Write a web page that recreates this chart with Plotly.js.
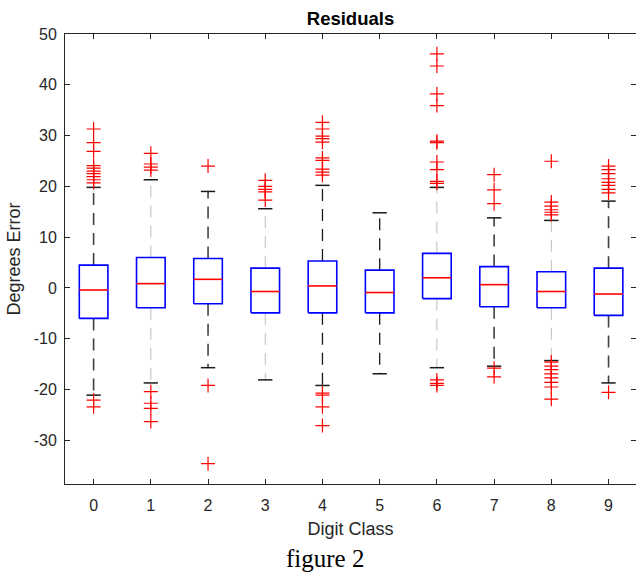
<!DOCTYPE html>
<html><head><meta charset="utf-8">
<script src="https://cdn.plot.ly/plotly-3.0.1.min.js"></script>
<style>html,body{margin:0;padding:0;background:#fff}</style>
</head><body><div id="chart" style="width:636px;height:574px"></div>
<script>
// ---- data ----
const categories = [0, 1, 2, 3, 4, 5, 6, 7, 8, 9];
const xTickLabels = ['0', '1', '2', '3', '4', '5', '6', '7', '8', '9'];
const upperWhisker = [19.8, 21.3, 19.0, 15.6, 20.2, 14.8, 19.8, 13.8, 13.3, 17.1];
const q3 = [4.5, 6.0, 5.8, 3.9, 5.3, 3.5, 6.8, 4.2, 3.2, 3.9];
const medians = [-0.4, 0.85, 1.7, -0.7, 0.4, -0.9, 2.0, 0.65, -0.7, -1.2];
const q1 = [-6.0, -3.9, -3.1, -4.9, -4.9, -4.9, -2.1, -3.7, -3.9, -5.4];
const lowerWhisker = [-21.1, -18.7, -15.7, -18.1, -19.2, -16.9, -15.7, -15.4, -14.3, -18.7];
const outliers0 = [31.3, 28.6, 26.9, 24.1, 23.6, 23.0, 22.5, 21.9, 21.3, 20.7, -22.1, -23.4];
const outliers1 = [26.5, 24.4, 23.8, 23.2, -20.4, -22.7, -23.7, -26.3];
const outliers2 = [24.0, -19.2, -34.6];
const outliers3 = [21.2, 20.0, 19.4, 18.9, 17.3];
const outliers4 = [32.6, 31.3, 29.9, 29.4, 28.7, 25.6, 25.1, 23.4, 22.8, 22.2, -20.7, -21.1, -23.4, -27.1];
const outliers5 = [];
const outliers6 = [46.1, 43.7, 38.2, 35.9, 28.9, 28.6, 24.8, 23.3, 21.0, 20.6, -18.1, -18.8, -19.2];
const outliers7 = [22.3, 19.3, 16.6, -15.8, -17.5];
const outliers8 = [24.95, 16.9, 16.1, 15.4, 14.9, 14.4, -14.6, -15.4, -16.1, -16.9, -17.7, -18.6, -19.5, -21.9];
const outliers9 = [24.0, 23.3, 22.5, 21.5, 20.8, 20.2, 19.4, 18.7, -20.55];
const yTickVals = [-30, -20, -10, 0, 10, 20, 30, 40, 50];
const yTickLabels = ['-30', '-20', '-10', '0', '10', '20', '30', '40', '50'];

// ---- styles ----
const outlierLists = [outliers0, outliers1, outliers2, outliers3, outliers4, outliers5, outliers6, outliers7, outliers8, outliers9];
const whiskerColors = ['#404040', '#bdbdbd', '#1a1a1a', '#bdbdbd', '#1a1a1a', '#1a1a1a', '#bdbdbd', '#404040', '#bdbdbd', '#404040'];
const whiskerWidths = [1.6, 1, 1.3, 1, 1.3, 1.3, 1, 1.6, 1, 1.6];
const boxHalf = 0.25, capHalf = 0.125;

const traces = [];
// whiskers (dashed) from box edges to the whisker ends
categories.forEach((c, i) => {
  traces.push({
    type: 'scatter', mode: 'lines', showlegend: false, hoverinfo: 'skip',
    x: [c, c, null, c, c], y: [q3[i], upperWhisker[i], null, q1[i], lowerWhisker[i]],
    line: {color: whiskerColors[i], width: whiskerWidths[i], dash: '12px,8px'}
  });
});
const boxX = [], boxY = [], capX = [], capY = [], medX = [], medY = [];
categories.forEach((c, i) => {
  boxX.push(c - boxHalf, c + boxHalf, c + boxHalf, c - boxHalf, c - boxHalf, null);
  boxY.push(q1[i], q1[i], q3[i], q3[i], q1[i], null);
  capX.push(c - capHalf, c + capHalf, null, c - capHalf, c + capHalf, null);
  capY.push(upperWhisker[i], upperWhisker[i], null, lowerWhisker[i], lowerWhisker[i], null);
  medX.push(c - boxHalf, c + boxHalf, null);
  medY.push(medians[i], medians[i], null);
});
traces.push({type: 'scatter', mode: 'lines', x: capX, y: capY, showlegend: false, hoverinfo: 'skip',
  line: {color: '#1a1a1a', width: 1.5}});
traces.push({type: 'scatter', mode: 'lines', x: boxX, y: boxY, showlegend: false, hoverinfo: 'skip',
  line: {color: '#0000ff', width: 1.6}});
traces.push({type: 'scatter', mode: 'lines', x: medX, y: medY, showlegend: false, hoverinfo: 'skip',
  line: {color: '#ff0000', width: 1.6}});
const oX = [], oY = [];
categories.forEach((c, i) => outlierLists[i].forEach(v => { oX.push(c); oY.push(v); }));
traces.push({type: 'scatter', mode: 'markers', x: oX, y: oY, showlegend: false, hoverinfo: 'skip',
  marker: {symbol: 'cross-thin', size: 10, color: '#ff0000', line: {color: '#ff0000', width: 1.2}}});

const axisCommon = {
  ticks: 'inside', ticklen: 5, tickwidth: 1, tickcolor: '#262626',
  showline: true, linecolor: '#262626', linewidth: 1, mirror: 'ticks',
  showgrid: false, zeroline: false, fixedrange: true,
  tickfont: {family: 'Liberation Sans, Arial, sans-serif', size: 16, color: '#262626'}
};
const layout = {
  width: 636, height: 574,
  margin: {l: 65, r: 0, t: 34, b: 90},
  paper_bgcolor: '#ffffff', plot_bgcolor: '#ffffff',
  showlegend: false,
  title: {text: 'Residuals', x: 0.5, xref: 'paper', y: 1 - 18.5 / 574, yref: 'container', yanchor: 'middle',
    font: {family: 'Liberation Sans, Arial, sans-serif', size: 18.5, weight: 700, color: '#000000'}},
  xaxis: Object.assign({}, axisCommon, {
    range: [-0.5, 9.48], tickmode: 'array', tickvals: categories, ticktext: xTickLabels,
    ticklabelstandoff: 7,
    title: {text: 'Digit Class', standoff: 9, font: {family: 'Liberation Sans, Arial, sans-serif', size: 18, color: '#262626'}}
  }),
  yaxis: Object.assign({}, axisCommon, {
    range: [-38.6, 50], tickmode: 'array', tickvals: yTickVals, ticktext: yTickLabels,
    ticklabelstandoff: 4,
    title: {text: 'Degrees Error', standoff: 8, font: {family: 'Liberation Sans, Arial, sans-serif', size: 18, color: '#262626'}}
  }),
  annotations: [{
    text: 'figure 2', xref: 'paper', yref: 'paper', x: (325 - 65) / 571, y: (484 - 558) / 450,
    xanchor: 'center', yanchor: 'middle', showarrow: false,
    font: {family: 'Liberation Serif, Times New Roman, serif', size: 25, color: '#000000'}
  }]
};
Plotly.newPlot('chart', traces, layout, {staticPlot: true, displayModeBar: false});
</script></body></html>
